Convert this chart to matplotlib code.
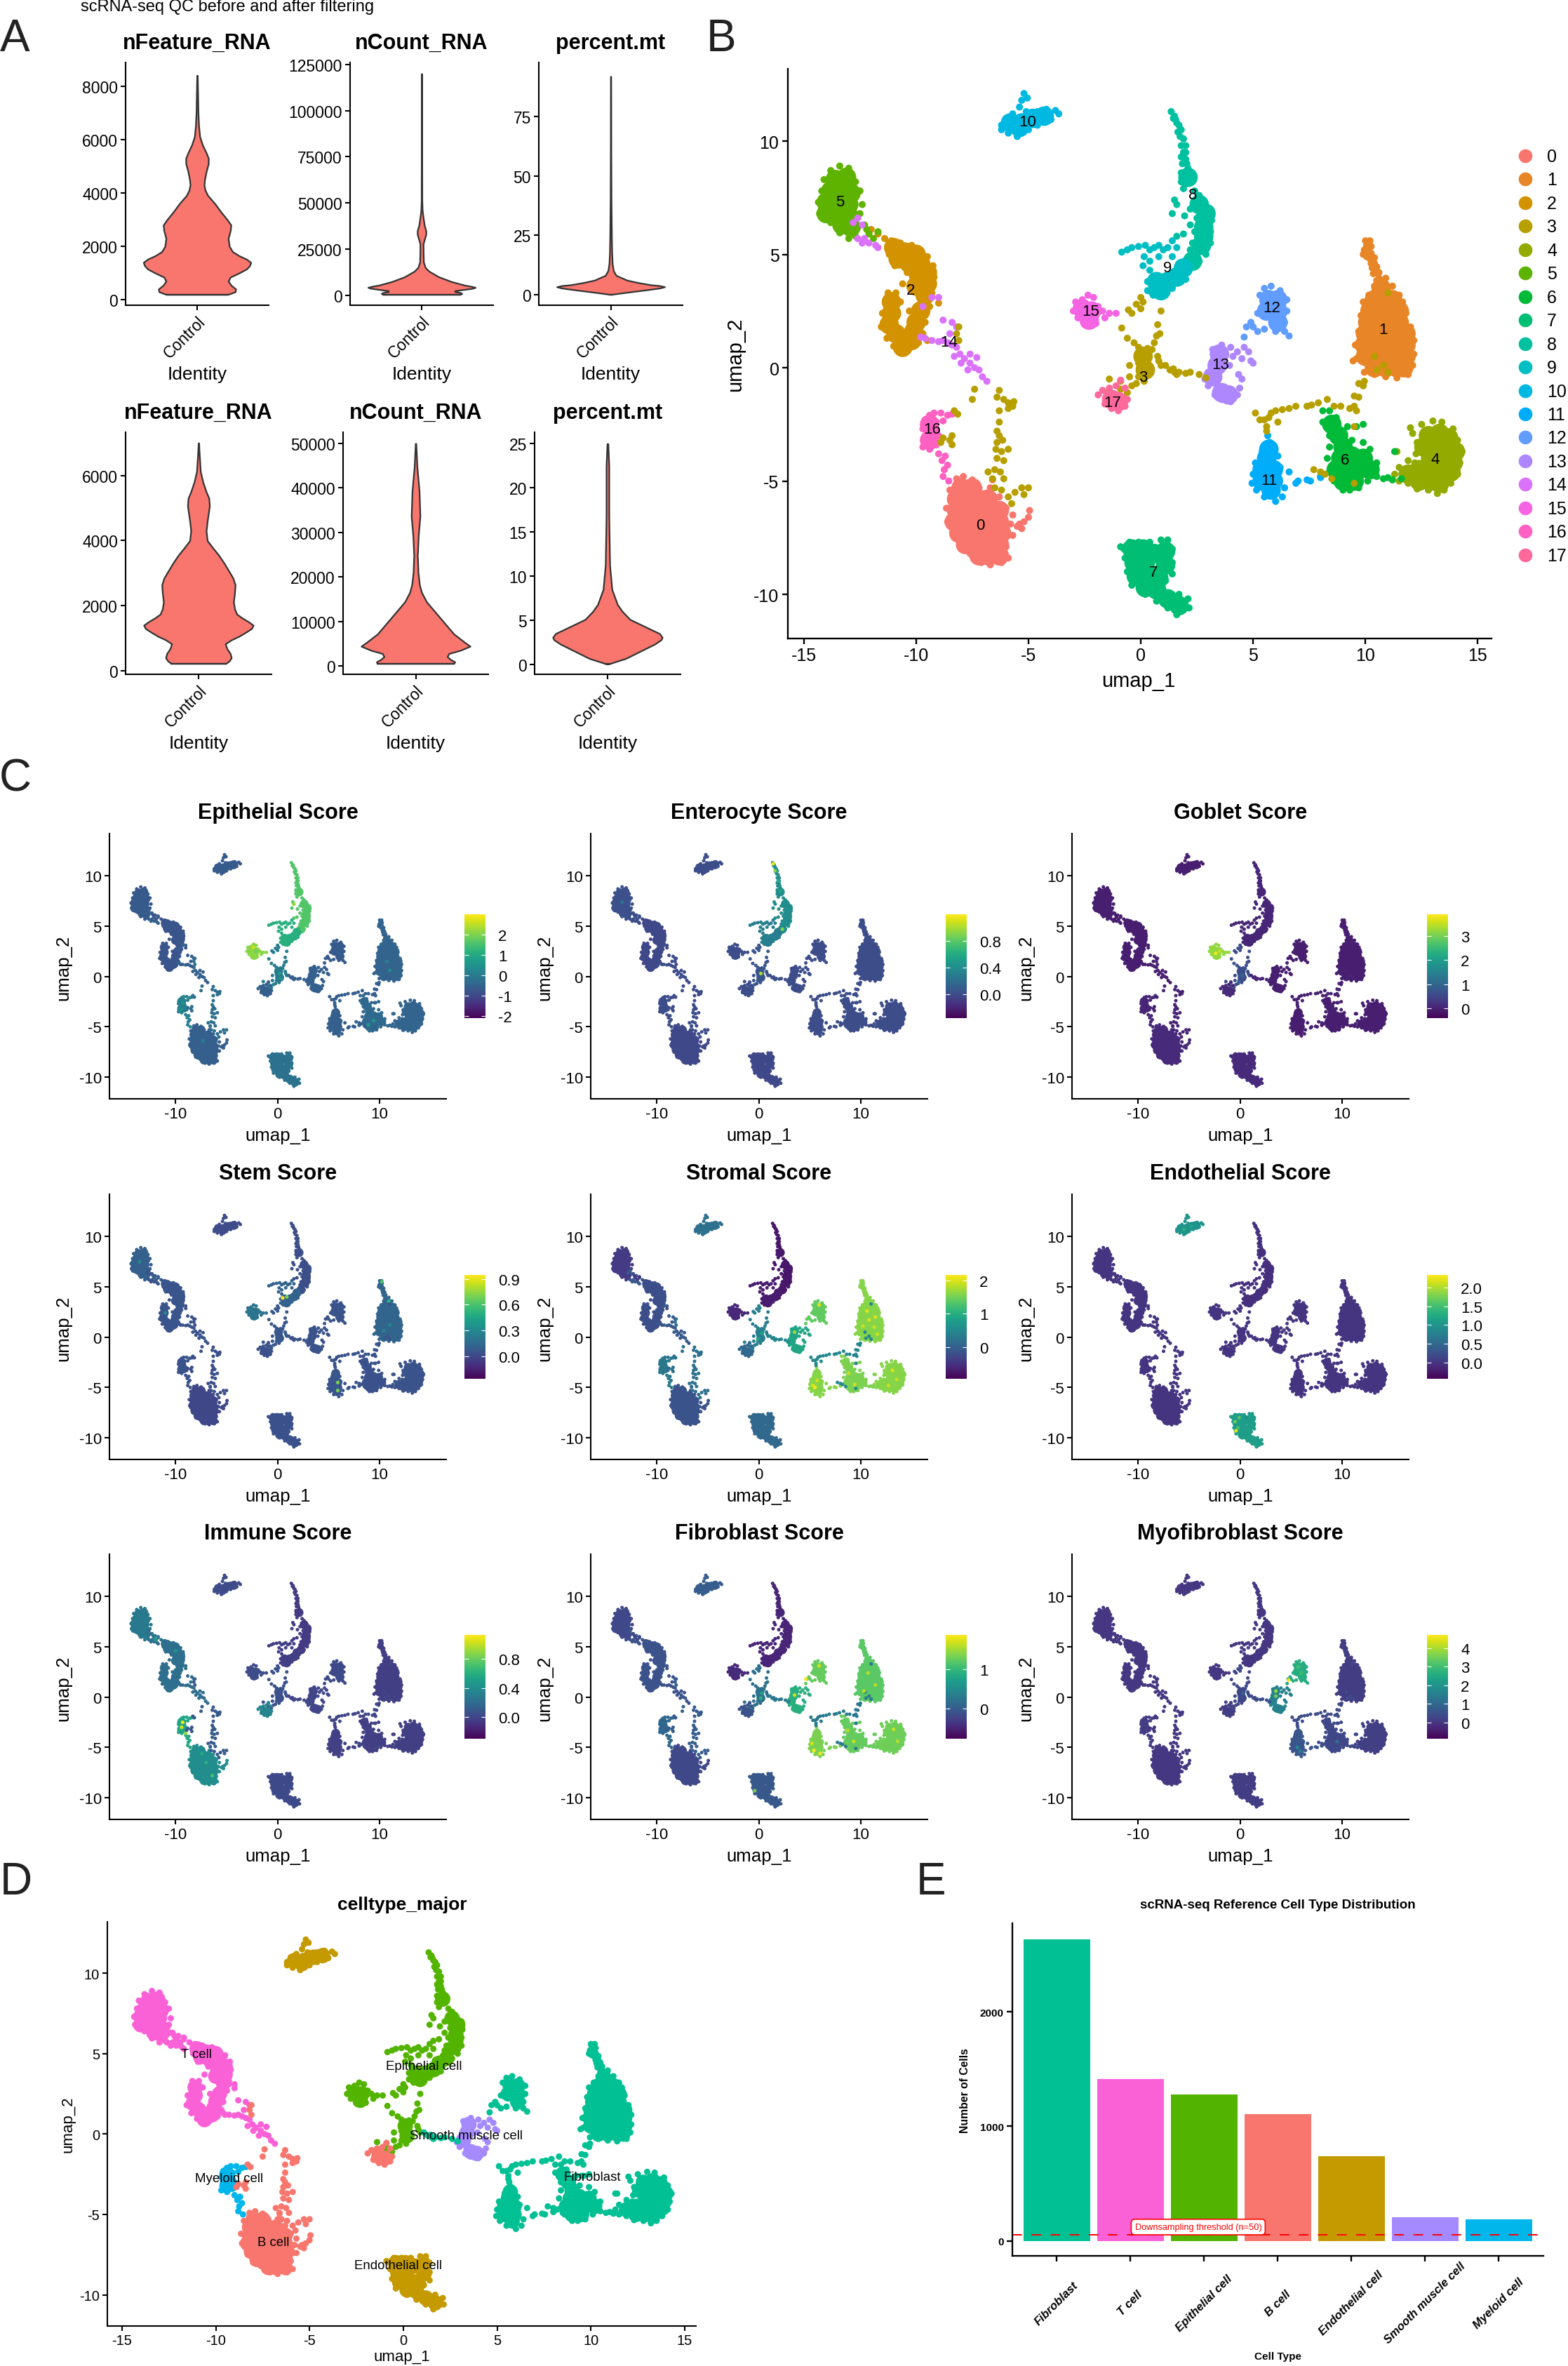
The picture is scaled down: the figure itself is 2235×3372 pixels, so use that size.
"""
Multi-panel scRNA-seq figure: QC violins, UMAP clusters, score maps, cell type UMAP and counts.
All values are read by eye from the published picture.
"""
from matplotlib import pyplot as plt
from matplotlib.cm import ScalarMappable
from matplotlib.colors import Normalize

W, H = 2235, 3373
plt.rcParams['font.family'] = ['Liberation Sans', 'DejaVu Sans']
plt.rcParams['axes.unicode_minus'] = False

# --- panel A: violin outlines, (value, relative half width)
vln_feature1_y = [200, 230, 300, 400, 550, 700, 850, 1000, 1150, 1280, 1400, 1520, 1650, 1800, 2000, 2300, 2600, 2800, 3000, 3300, 3600, 3900, 4100, 4300, 4500, 4800, 5100, 5300, 5500, 5800, 6100, 6500, 7000, 8400]
vln_feature1_w = [.57, .62, .71, .72, .63, .58, .62, .78, .92, .98, 1, .92, .78, .66, .6, .58, .62, .63, .56, .44, .33, .2, .15, .13, .14, .17, .21, .21, .17, .1, .05, .03, .018, .005]
vln_count1_y = [500, 1000, 1500, 2000, 2500, 3200, 3800, 4300, 4900, 5500, 7500, 10000, 13000, 15000, 18000, 24000, 28000, 30000, 33000, 35000, 38000, 42000, 46000, 52000, 120000]
vln_count1_w = [.72, .75, .72, .62, .62, .8, .95, 1, .92, .8, .55, .32, .14, .07, .035, .03, .03, .05, .08, .08, .05, .03, .012, .006, .002]
vln_mt1_y = [0, .5, 1, 2, 2.7, 3.2, 3.7, 4, 5, 6, 7, 8, 10, 13, 18, 25, 40, 60, 92]
vln_mt1_w = [.02, .18, .35, .7, .92, 1, .9, .75, .5, .3, .2, .1, .05, .03, .02, .015, .008, .005, .003]
vln_feature2_y = [227, 300, 400, 530, 680, 830, 950, 1060, 1200, 1300, 1400, 1500, 1620, 1740, 1900, 2115, 2400, 2640, 2850, 3020, 3300, 3550, 3800, 4000, 4300, 4600, 5060, 5300, 5500, 5800, 6120, 6720, 7000]
vln_feature2_w = [.5, .56, .6, .58, .52, .49, .6, .74, .88, .97, 1, .92, .8, .7, .66, .64, .66, .67, .63, .57, .47, .37, .25, .16, .14, .16, .2, .19, .14, .08, .035, .012, .004]
vln_count2_y = [550, 900, 1440, 2100, 2770, 3500, 4420, 5300, 7190, 10500, 14400, 16500, 18250, 21000, 24900, 29300, 33700, 39300, 44800, 50000]
vln_count2_w = [.7, .72, .64, .58, .61, .82, 1, .9, .7, .47, .2, .11, .07, .045, .033, .05, .08, .065, .025, .005]
vln_mt2_y = [.05, .3, .67, 1.5, 2.3, 2.8, 3.06, 3.5, 4, 5.1, 6, 6.8, 8.5, 11.2, 16.8, 22.4, 25]
vln_mt2_w = [.02, .14, .33, .6, .86, .98, 1, .95, .78, .41, .27, .18, .08, .04, .025, .025, .008]

qc_titles = ['nFeature_RNA', 'nCount_RNA', 'percent.mt']
qc_ticks_top = [[0, 2000, 4000, 6000, 8000], [0, 25000, 50000, 75000, 100000, 125000], [0, 25, 50, 75]]
qc_ticks_bottom = [[0, 2000, 4000, 6000], [0, 10000, 20000, 30000, 40000, 50000], [0, 5, 10, 15, 20, 25]]

# --- UMAP points by cluster
c0_core = [(-8.0, -5.3), (-7.5, -5.3), (-8.2, -5.8), (-7.7, -5.8), (-7.2, -5.8), (-6.8, -5.8), (-8.2, -6.3), (-7.7, -6.3), (-7.2, -6.3), (-6.7, -6.3), (-6.3, -6.3), (-8.3, -6.8), (-7.8, -6.8), (-7.3, -6.8), (-6.8, -6.8), (-6.3, -6.8), (-8.1, -7.3), (-7.6, -7.3), (-7.1, -7.3), (-6.6, -7.3), (-6.2, -7.3), (-7.8, -7.8), (-7.3, -7.8), (-6.8, -7.8), (-6.3, -7.8), (-7.2, -8.3), (-6.8, -8.3), (-6.3, -8.3)]
c0_edge = [(-8.5, -5.4), (-8.2, -4.9), (-7.9, -4.8), (-7.5, -4.95), (-7.2, -5.3), (-6.7, -5.3), (-6.6, -4.95), (-6.3, -5.7), (-6.0, -6.2), (-5.7, -6.5), (-5.4, -6.9), (-5.2, -6.8), (-5.0, -6.6), (-4.95, -6.3), (-5.5, -7.0), (-5.8, -6.9), (-5.9, -7.4), (-6.0, -7.9), (-5.9, -8.4), (-6.2, -8.6), (-6.7, -8.7), (-7.1, -8.6), (-7.6, -8.2), (-8.0, -8.0), (-8.3, -7.5), (-8.6, -6.8), (-8.65, -6.2), (-8.4, -5.7), (-5.7, -7.4), (-5.3, -7.1)]
c1_core = [(10.7, 3.5), (10.4, 3), (10.9, 3), (11.2, 3), (10.2, 2.5), (10.7, 2.5), (11.2, 2.5), (11.5, 2.5), (10.1, 2), (10.6, 2), (11.1, 2), (11.5, 2), (10, 1.5), (10.5, 1.5), (11, 1.5), (11.5, 1.5), (11.8, 1.5), (9.95, 1), (10.4, 1), (10.9, 1), (11.4, 1), (11.8, 1), (10, .5), (10.5, .5), (11, .5), (11.5, .5), (11.8, .5), (10.4, 0), (10.9, 0), (11.4, 0), (11.7, 0)]
c1_edge = [(10.0, 5.6), (10.2, 5.6), (10.1, 5.2), (9.9, 5.0), (10.2, 4.8), (10.3, 4.4), (10.45, 4.2), (10.4, 4.6), (10.6, 3.95), (10.9, 3.95), (10.4, 3.6), (11.2, 3.6), (11.5, 3.2), (11.65, 2.9), (11.8, 2.4), (12.0, 1.8), (12.15, 1.2), (12.15, .6), (12.1, .1), (11.9, -.3), (11.4, -.45), (10.9, -.4), (10.4, -.3), (9.95, -.2), (9.6, .4), (9.45, .3), (9.55, 1), (9.7, 1.6), (9.8, 2.3), (9.9, 2.9), (10.15, 3.2), (10.05, 5.4), (10.25, 5.35), (9.95, 5.2), (10.25, 5.05), (10.05, 4.9), (10.4, 4.85), (10.5, 4.45), (10.25, 4.6), (10.35, 4.15), (10.6, 4.2), (10.5, 3.85), (10.75, 3.8)]
c2_core = [(-11.0, 5.3), (-10.5, 5.1), (-10.0, 5.0), (-10.8, 4.8), (-10.3, 4.6), (-9.8, 4.6), (-9.5, 4.2), (-9.9, 4.1), (-9.5, 3.7), (-10.0, 3.6), (-9.6, 3.2), (-9.8, 2.5), (-10.0, 2.0), (-10.1, 1.6), (-11.1, 2.9), (-11.1, 2.4), (-11.2, 1.9), (-10.9, 1.5), (-10.6, 1.2), (-10.2, 1.2), (-10.6, .9)]
c2_edge = [(-12.0, 6.1), (-11.7, 5.9), (-11.4, 5.7), (-11.1, 5.6), (-10.7, 5.5), (-10.2, 5.4), (-9.8, 5.1), (-9.5, 4.9), (-9.25, 4.5), (-9.2, 4.0), (-9.3, 3.3), (-9.6, 2.9), (-9.4, 2.7), (-9.6, 2.0), (-9.7, 1.5), (-9.9, 1.1), (-10.3, .85), (-10.7, .65), (-11.0, .95), (-11.3, 1.3), (-11.55, 1.8), (-11.5, 2.4), (-11.3, 3.0), (-11.25, 3.3), (-10.9, 3.3), (-10.7, 2.9), (-10.3, 2.5), (-10.6, 3.7), (-10.4, 4.2), (-11.2, 5.0), (-10.95, 4.5), (-9.0, 2.85), (-9.5, 1.2)]
c3_core = [(.1, .5), (.2, -.1)]
c3_edge = [(.1, .6), (.3, .3), (-.1, .2), (.2, -.1), (-.1, -.4), (.5, .8), (.6, 1.1), (.7, 1.4), (.75, 1.9), (.3, .85), (-.1, .9), (-.2, -.7), (-.4, -.8), (-.5, -.4), (-.9, -.6), (-1.4, -.5), (-1.5, -1.1), (-.9, -.95), (-.6, -1.1), (-.5, .1), (.15, -.6), (.4, -.2), (.8, .3), (.9, .1), (.85, 1.5), (.75, .5), (-.3, 1.1), (-.6, 1.3), (-.85, 1.75), (.9, 2.5), (.1, 2.9), (0, 3.1), (-.4, 2.4), (-.55, 2.55), (.0, 2.6), (-.2, 2.8)]
c4_core = [(12.8, -3), (13.3, -2.9), (13.7, -3.1), (12.6, -3.5), (13.1, -3.5), (13.6, -3.6), (14, -3.7), (12.9, -4), (13.4, -4.1), (13.9, -4.2), (12.4, -4.5), (12.9, -4.5), (13.4, -4.6), (13.8, -4.6), (11.9, -4.7), (12.4, -5), (12.9, -5), (13.3, -5.1)]
c4_edge = [(13, -2.35), (13.4, -2.4), (12.5, -2.5), (12, -2.65), (12.1, -2.9), (12.3, -3.3), (12.25, -3.8), (13.9, -2.7), (14.1, -3.2), (14.3, -3.7), (14.2, -4.2), (14.1, -4.7), (13.8, -5.1), (13.5, -5.4), (13.2, -5.55), (12.8, -5.4), (12.3, -5.35), (11.9, -5.1), (11.5, -5.0), (11.3, -4.7), (11.5, -4.4), (11.9, -4.1), (12.2, -4.2), (11.4, -3.7)]
c5_core = [(-13.6, 8.3), (-13.1, 8.4), (-13.8, 7.8), (-13.3, 7.8), (-12.9, 7.7), (-14, 7.3), (-13.5, 7.3), (-13, 7.2), (-14, 6.8), (-13.5, 6.8), (-13, 6.7), (-13.3, 6.3), (-12.9, 6.2)]
c5_edge = [(-13.8, 8.7), (-13.4, 8.9), (-13, 8.8), (-12.7, 8.2), (-12.5, 7.8), (-12.4, 7.2), (-12.5, 6.8), (-12.6, 6.2), (-12.7, 5.8), (-13, 5.7), (-13.4, 5.95), (-13.8, 6.4), (-14.3, 6.8), (-14.35, 7.3), (-14.2, 7.8), (-14.1, 8.3), (-12.3, 6.3), (-12.1, 5.9), (-11.9, 5.7), (-11.7, 6.0), (-12.2, 6.1)]
c6_core = [(8.5, -2.5), (8.8, -3), (9, -3.5), (8.9, -4), (9.4, -3.9), (9.9, -4.0), (8.7, -4.5), (9.2, -4.5), (9.7, -4.5), (10.2, -4.5), (9, -5), (9.5, -5)]
c6_edge = [(8.1, -1.9), (8.4, -1.9), (8.7, -2.2), (8.1, -2.4), (8.4, -3), (8.4, -3.5), (8.3, -4), (8, -4.8), (8.4, -4.6), (8.6, -5), (9, -5.4), (9.3, -5.4), (9.7, -5.3), (10.1, -5.0), (10.5, -4.8), (10.5, -4.2), (10.2, -3.6), (9.9, -3.3), (9.4, -3.2), (9.2, -2.6), (9.6, -2.6), (9.9, -2.5), (11, -4.85), (11.2, -4.95), (11.6, -4.9), (10.8, -4.9), (11.3, -3.7)]
c7_core = [(-.4, -8), (.1, -8), (.6, -8.2), (1.1, -8.1), (-.3, -8.6), (.2, -8.6), (1.1, -8.7), (-.2, -9.2), (.3, -9.2), (.8, -9.3), (.2, -9.7), (.7, -9.8), (1.2, -10.2), (1.7, -10.5)]
c7_edge = [(-.9, -7.9), (-.5, -7.7), (-.1, -7.7), (.4, -7.7), (.9, -7.6), (1.2, -7.6), (1.4, -8), (1.4, -8.6), (1.4, -9.1), (1.1, -9.4), (1.7, -10), (2.1, -10.2), (2.15, -10.6), (1.6, -10.9), (1.2, -10.6), (.7, -10.3), (.2, -10), (-.4, -9.6), (-.6, -9), (-.7, -8.4), (-.75, -8.0), (.7, -8.9)]
c8_core = [(2.1, 8.4), (2.6, 7.2), (2.9, 6.8), (2.8, 6.2), (2.8, 5.8), (2.7, 5.4), (2.3, 4.7)]
c8_edge = [(1.35, 11.3), (1.5, 11.1), (1.45, 11.0), (1.6, 10.8), (1.55, 10.95), (1.7, 10.7), (1.8, 10.5), (1.65, 10.4), (1.75, 10.2), (1.9, 10.1), (1.8, 9.8), (2.0, 9.8), (1.9, 9.5), (2.0, 9.5), (1.8, 9.3), (2, 9.2), (1.85, 9), (2.05, 9), (2.1, 8.8), (1.8, 8.6), (2.2, 8.6), (2.3, 8.4), (1.8, 8.2), (2.4, 7.8), (1.9, 7.9), (2.6, 7.6), (3.1, 7.0), (3.15, 6.5), (3.1, 6), (3.1, 5.5), (2.9, 5), (2.6, 4.7), (2.2, 6.3), (2.4, 6), (2.3, 5.5), (2.2, 5.2), (1.5, 7.4), (1.6, 7.2), (1.4, 6.8), (1.95, 6.7), (2.2, 7.0), (1.9, 5.9), (1.6, 5.8), (2.5, 6.6), (2.5, 5.0)]
c9_core = [(.7, 3.8), (1.2, 3.8), (1.6, 4), (.9, 3.4), (1.9, 4.4)]
c9_edge = [(-.85, 5.1), (-.6, 5.2), (-.4, 5.3), (-.1, 5.35), (.2, 5.4), (.4, 5.2), (.6, 5.3), (.8, 5.4), (1, 5.2), (1.2, 5.3), (1.4, 5.6), (1.6, 5.3), (.15, 4.9), (.4, 4.7), (.1, 4.5), (.4, 4.3), (.5, 3.9), (.3, 3.8), (.3, 3.4), (.5, 3.3), (.55, 3.2), (1, 3.3), (1.4, 3.5), (1.8, 3.8), (.8, 4.9), (1.4, 4.9), (1.7, 4.6), (2, 3.9)]
c10_core = [(-5.8, 10.8), (-5.3, 10.8), (-5.4, 10.6), (-4.8, 11), (-4.3, 11.1)]
c10_edge = [(-6.2, 10.7), (-6.0, 11), (-5.7, 11.2), (-5.4, 11.5), (-5.3, 11.8), (-5.2, 12.1), (-5.05, 11.9), (-5.1, 11.3), (-4.6, 11.3), (-4.2, 11.4), (-3.8, 11.35), (-3.65, 11.2), (-4, 10.95), (-4.6, 10.7), (-5, 10.5), (-5.5, 10.2), (-5.9, 10.35), (-6.2, 10.5)]
c11_core = [(5.6, -4), (5.4, -4.5), (5.9, -4.5), (5.4, -5), (5.9, -5), (5.8, -5.4), (5.7, -3.6)]
c11_edge = [(5.65, -3), (5.75, -3.3), (5.4, -3.7), (5.1, -4.2), (5, -4.7), (4.95, -5.1), (5.15, -5.4), (5.5, -5.7), (6, -5.9), (6.3, -5.7), (6.4, -5.3), (6.9, -5.1), (7, -5), (6.6, -4.6), (6.2, -4.4), (6.1, -3.9), (7.4, -4.95), (7.55, -5), (8.0, -4.85)]
c12_core = [(5.7, 3.0), (6.1, 3), (5.6, 2.5), (6.1, 2.5), (6.1, 2)]
c12_edge = [(5.3, 3.2), (5.5, 3.5), (5.8, 3.6), (6.2, 3.4), (6.5, 3.0), (6.5, 2.5), (6.4, 2), (6.6, 1.4), (6.4, 1.6), (6, 1.6), (5.5, 1.7), (5.2, 1.6), (4.7, 1.8), (4.9, 2), (5.2, 2.4), (5.0, 1.8), (4.6, 1.35)]
c13_core = [(3.5, .6), (3.4, .1), (3.2, -.4), (3.6, -1.1), (3.9, -1.2)]
c13_edge = [(3.2, .8), (3.6, 1), (4, .9), (4.1, .5), (3.95, .1), (3, -.3), (2.85, -.5), (3, -.8), (3.3, -1.2), (3.6, -1.4), (4, -1.5), (4.3, -1.2), (4.4, -.9), (4.5, -.5), (4.3, .7), (4.6, .9), (4.8, .7), (4.9, .3), (5, .2), (4.5, .4), (4.35, -.3)]
c14_edge = [(-9.8, 1.35), (-9.6, 1.3), (-9.3, 1.2), (-9, 1.15), (-8.8, 1.2), (-8.6, 1.1), (-8.4, 1), (-8.2, .9), (-8.05, .6), (-7.85, .4), (-7.6, .2), (-7.4, 0), (-7.2, -.1), (-7.05, -.4), (-6.85, -.6), (-8.3, .5), (-8, .2), (-7.7, -.1), (-8.5, 1.5), (-8.8, 2.1), (-8.4, 2), (-8.2, 1.8), (-9.3, 3.1), (-9.0, 3.1), (-9.7, 2.7), (-12.8, 6.4), (-12.6, 6.6), (-12.4, 6.3), (-12.3, 5.7), (-12.6, 5.7), (-12.1, 5.5), (-11.8, 5.4), (-11.7, 5.3), (-12.4, 5.5), (-7.3, .45), (-7.6, .6)]
c15_core = [(-2.6, 2.6), (-2.2, 2.5), (-2.3, 2.1)]
c15_edge = [(-3, 2.5), (-2.9, 2.9), (-2.6, 3), (-2.35, 3.2), (-2.1, 3.1), (-1.9, 2.7), (-1.7, 2.5), (-1.4, 2.4), (-1.1, 2.4), (-1.6, 2.2), (-2, 1.95), (-2.5, 1.9), (-2.8, 2.2)]
c16_core = [(-9.4, -2.5), (-9.4, -3.2)]
c16_edge = [(-9.4, -2.1), (-9.2, -2), (-8.9, -2), (-8.6, -2.1), (-8.4, -2.05), (-9.6, -2.3), (-9.1, -2.4), (-8.8, -2.35), (-9.7, -2.7), (-9.4, -2.7), (-9.1, -2.8), (-9.6, -3.2), (-9.3, -3.2), (-9, -3), (-9.7, -3.5), (-9.4, -3.6), (-9.1, -3.4), (-9.0, -3.8), (-8.85, -4.1), (-8.7, -3.9), (-8.6, -4.3), (-8.75, -4.5), (-8.8, -4.8), (-8.55, -5)]
c17_core = [(-1.3, -1.4), (-1.0, -1.5)]
c17_edge = [(-1.9, -1.2), (-1.7, -1.0), (-1.4, -.9), (-1.1, -.8), (-.9, -.55), (-.7, -.9), (-.6, -1.4), (-.7, -1.7), (-1, -1.9), (-1.3, -1.8), (-1.6, -1.6)]
# cluster 3 cells in the fibroblast ring and the link to cluster 13
c3_ring = [(1.1, .1), (1.3, -.1), (1.5, -.2), (1.7, -.2), (2, -.25), (2.2, -.2), (2.6, -.3), (2.9, -.45), (1.45, -.05), (1.6, -.3), (5.1, -2), (5.3, -2.3), (5.5, -2.3), (5.7, -2.2), (5.8, -2), (6, -1.9), (6.3, -1.85), (6.6, -1.8), (6.9, -1.7), (6.1, -2.4), (5.6, -2.6), (5.6, -2.8), (7.4, -1.7), (7.6, -1.65), (7.9, -1.55), (8.3, -1.4), (8.6, -1.7), (8.9, -1.7), (9.3, -1.8), (9.5, -1.7), (9.6, -1.9), (7.7, -4.5), (8, -4.6), (8.2, -4.7), (8.5, -4.9), (9.5, -5.1), (9.5, -2.6), (9.7, -1.3), (9.5, -1.25), (9.9, -.8), (9.95, -.6), (9.7, -.7), (10.5, -.1), (11, -.2), (10.8, .1), (10.4, .5), (11, 3.3)]
# cluster 3 cells in the strand above cluster 0 and around cluster 16
c3_tail = [(-6.3, -1.0), (-6.4, -1.3), (-6.1, -1.4), (-5.9, -1.55), (-5.7, -1.7), (-5.65, -1.5), (-5.9, -1.8), (-7.4, -.95), (-7.5, -1.4), (-6.3, -1.9), (-6.3, -2.4), (-6.4, -2.8), (-6.3, -3.0), (-6.4, -3.3), (-6.15, -3.2), (-6.45, -3.6), (-6.2, -3.7), (-5.9, -3.6), (-6.4, -4.0), (-6.1, -4.1), (-6.5, -4.5), (-6.25, -4.6), (-6.8, -4.6), (-6.6, -4.9), (-6.1, -4.9), (-6.5, -5.3), (-6.2, -5.4), (-5.6, -5.5), (-5.3, -5.3), (-5.2, -5.6), (-5.0, -5.3), (-5.9, -5.7), (-5.75, -6.0), (-8.8, -3.1), (-8.5, -3.2), (-8.4, -3.0), (-8.4, -3.4), (-8.9, -3.3), (-8.3, -1.9), (-8.15, -2.05), (-8.1, 1.8), (-8.2, 1.5), (-8.1, 1.2)]

core_pts = [c0_core, c1_core, c2_core, c3_core, c4_core, c5_core, c6_core, c7_core, c8_core, c9_core, c10_core, c11_core, c12_core, c13_core, [], c15_core, c16_core, c17_core, [], []]
edge_pts = [c0_edge, c1_edge, c2_edge, c3_edge, c4_edge, c5_edge, c6_edge, c7_edge, c8_edge, c9_edge, c10_edge, c11_edge, c12_edge, c13_edge, c14_edge, c15_edge, c16_edge, c17_edge, c3_ring, c3_tail]

cluster_names = [str(i) for i in range(18)]
cluster_colors = ['#F8766D', '#E88526', '#D39200', '#B79F00', '#93AA00', '#5EB300', '#00BA38', '#00BF74', '#00C19F', '#00BFC4', '#00B9E3', '#00ADFA', '#619CFF', '#AE87FF', '#DB72FB', '#F564E3', '#FF61C3', '#FF699C']
group_cluster = list(range(18)) + [3, 3]
cluster_label_x = [-7.15, 10.8, -10.23, .1, 13.1, -13.4, 9.1, .55, 2.3, 1.2, -5.03, 5.7, 5.82, 3.55, -8.55, -2.23, -9.3, -1.27]
cluster_label_y = [-6.95, 1.7, 3.42, -.42, -4.04, 7.33, -4.06, -9.02, 7.62, 4.41, 10.84, -4.98, 2.65, .14, 1.13, 2.48, -2.7, -1.52]

# --- panel C: mean score per group (clusters 0-17, ring, tail), colour range, ticks
score_titles = ['Epithelial Score', 'Enterocyte Score', 'Goblet Score', 'Stem Score', 'Stromal Score', 'Endothelial Score', 'Immune Score', 'Fibroblast Score', 'Myofibroblast Score']
epithelial = [-.6, -.5, -.8, 0, -.5, -.7, -.4, -.2, 1.6, 1.1, -.7, -.6, -.7, -.6, -.6, 2.1, .1, -.6, -.6, -.3]
enterocyte = [-.02, 0, -.02, .05, 0, .02, 0, -.02, .4, .3, 0, 0, 0, 0, 0, 0, 0, 0, 0, 0]
goblet = [.1, -.05, -.05, .6, -.05, -.05, -.05, .1, .05, .05, -.05, -.05, -.05, -.05, -.05, 3.2, .05, .1, 0, 0]
stem = [0, .13, .06, .07, .05, .1, .04, .04, .03, .12, .02, .06, .05, .05, .05, .2, .05, .04, .05, .03]
stromal = [-.15, 1.6, -.2, .4, 1.6, -.4, 1.55, .1, -.75, -.7, .2, 1.6, 1.4, .9, -.1, -.6, .3, .1, .5, .2]
endothelial = [0, 0, 0, 0, 0, 0, 0, 1.1, -.05, -.05, 1.0, 0, 0, 0, 0, 0, 0, 0, 0, 0]
immune = [.4, -.03, .22, .05, -.03, .28, -.03, .02, -.05, -.03, .03, -.02, .02, 0, .2, .03, .55, .35, 0, .1]
fibroblast = [-.2, 1.2, -.1, .2, 1.3, -.2, 1.25, -.05, -.5, -.5, 0, 1.35, 1.25, .9, -.1, -.45, .1, -.1, .3, 0]
myofibroblast = [0, .1, 0, .3, .15, 0, .3, .1, 0, 0, 0, .6, 2.6, 1.6, 0, 0, .1, .1, .4, 0]
score_values = [epithelial, enterocyte, goblet, stem, stromal, endothelial, immune, fibroblast, myofibroblast]
score_lims = [(-2.12, 3.0), (-.36, 1.2), (-.41, 3.9), (-.257, .945), (-.94, 2.16), (-.43, 2.33), (-.297, 1.13), (-.77, 1.88), (-.89, 4.72)]
score_ticks = [[-2, -1, 0, 1, 2], [0, .4, .8], [0, 1, 2, 3], [0, .3, .6, .9], [0, 1, 2], [0, .5, 1, 1.5, 2], [0, .4, .8], [0, 1], [0, 1, 2, 3, 4]]
score_fmt = ['%d', '%.1f', '%d', '%.1f', '%d', '%.1f', '%.1f', '%d', '%d']
# brightest single cells of each map: x, y, score
hot_cells = [[(-2.4, 2.9, 2.6), (1.6, 7.2, 2.2), (-2.1, 2.5, 1.9), (.2, .3, .6), (.3, -.2, .5), (9.4, -4.4, .5), (8.9, -4.8, .6), (-9.3, -2.6, .4), (-9.5, -3.3, .5), (-7.3, -6.4, .1), (10.7, 1.5, .2), (11, .6, .3)],
             [(1.4, 11.2, 1.15), (1.6, 10.5, .9), (.2, .3, 1.0), (2.3, 4.7, .9), (1.9, 9.5, .6), (2.1, 8.5, .55), (-13.4, 7.4, .25)],
             [(-2.4, 2.3, 3.8), (-2.0, 2.5, 3.5), (0.2, .1, 1.0), (-.1, -.5, .9)],
             [(.5, 3.9, .94), (.9, 4.0, .7), (10.2, 5.5, .6), (5.9, -4.5, .7), (5.9, -5.3, .7), (10.9, 3.6, .5), (11, 1.2, .3), (10.4, .6, .3), (-11, 2.4, .3), (-13.5, 7.5, .3)],
             [(10.8, 1.7, 2.0), (5.5, -5.0, 2.1), (5.3, -4.8, 2.0), (11.3, 1.0, 1.9), (13.5, -4.2, 1.9), (10.6, 2.6, 2.0), (11.4, 2.0, 2.0), (10.2, 1.1, 1.9), (11.6, .3, 1.9), (13.1, -3.3, 2.0), (12.7, -4.8, 1.9), (9.4, -4.7, 1.95), (8.8, -3.6, 1.9), (5.7, -4.3, 1.95), (5.9, 3.2, 2.0), (3.5, .5, 1.7), (-.1, -.2, .9), (.3, .4, .9)],
             [(-.4, -9.3, 2.2), (-.1, -8.0, 1.6), (-4.8, 11, 1.2), (-.5, -8.4, 1.7), (-.2, -9.0, 1.5), (.6, -8.0, .9), (-5.5, 10.7, 1.3)],
             [(-9.3, -2.5, 1.1), (-9.4, -3.0, 1.05), (-9.0, -3.6, .9), (-7, -6.5, .6), (-6.4, -7.8, .7), (-7.4, -5.6, .55), (-12, 5.7, .5), (-10, 4.6, .45)],
             [(5.4, -5.3, 1.85), (5.2, -4.6, 1.7), (3.5, .2, 1.7), (5.9, 3.1, 1.7), (6.0, -5.6, 1.85), (4.6, 1.8, 1.85), (10.7, 2.4, 1.6), (11.4, 1.2, 1.6), (10.3, .6, 1.6), (13.2, -3.2, 1.65), (13.6, -4.4, 1.6), (9.3, -4.4, 1.65), (8.7, -3.3, 1.6), (.2, -.1, .9), (.3, .4, .8), (-.4, -9.3, 1.3)],
             [(4.75, 1.7, 4.6), (3.5, .6, 3.8), (3.5, .1, 3.5), (5.7, 3, 3.1), (6, 2.4, 3), (5.6, -5.0, 1.8), (5.9, -5.4, 1.6), (.3, .4, .9), (9.5, -4.4, 1.2)]]

# --- panels D and E
celltype_names = ['Fibroblast', 'T cell', 'Epithelial cell', 'B cell', 'Endothelial cell', 'Smooth muscle cell', 'Myeloid cell']
celltype_counts = [2630, 1413, 1276, 1107, 738, 206, 186]
celltype_colors = ['#00C094', '#FB61D7', '#53B400', '#F8766D', '#C49A00', '#A58AFF', '#00B6EB']
# cell type index of each group (clusters 0-17, ring, tail)
group_celltype = [3, 0, 1, 2, 0, 1, 0, 4, 2, 2, 4, 0, 0, 5, 1, 2, 6, 3, 0, 3]
celltype_label_x = [10.07, -11.04, 1.08, -6.91, -.28, 3.35, -9.29]
celltype_label_y = [-2.68, 4.98, 4.25, -6.72, -8.15, -.11, -2.74]
threshold = 50

fig = plt.figure(figsize=(W / 100, H / 100), dpi=100)


def px_axes(left, top, right, bottom):
    return fig.add_axes([left / W, 1 - bottom / H, (right - left) / W, (bottom - top) / H])


def ptext(x, y, s, **kw):
    kw.setdefault('ha', 'center')
    kw.setdefault('va', 'center')
    fig.text(x / W, 1 - y / H, s, **kw)


def style(ax, lw=1.5, size=16, length=5):
    for side in ['top', 'right']:
        ax.spines[side].set_visible(False)
    for side in ['left', 'bottom']:
        ax.spines[side].set_linewidth(lw)
    ax.tick_params(width=lw, length=length, labelsize=size, pad=3)


def scatter_groups(ax, colors, s_core, s_edge):
    for core, edge, c in zip(core_pts, edge_pts, colors):
        if core:
            ax.scatter(*zip(*core), s=s_core, c=[c] * len(core), linewidths=0)
        ax.scatter(*zip(*edge), s=s_edge, c=[c] * len(edge), linewidths=0)


for letter, x, y in [('A', 21, 56), ('B', 1028, 56), ('C', 22, 1110), ('D', 23, 2683), ('E', 1327, 2683)]:
    ptext(x, y, letter, fontsize=46, color='#222222')

# panel A
ptext(115, 10, 'scRNA-seq QC before and after filtering', fontsize=17, ha='left')
qc_top = [(179, 383), (499, 703), (768, 973)]
qc_bot = [(179, 387), (489, 696), (762, 970)]
qc_rows = [
    (90, 436, qc_top, qc_ticks_top, [(-203, 8885), (-5330, 126066), (-4.57, 97.9)],
     [(vln_feature1_y, vln_feature1_w), (vln_count1_y, vln_count1_w), (vln_mt1_y, vln_mt1_w)]),
    (617, 962, qc_bot, qc_ticks_bottom, [(-106, 7330), (-1880, 52540), (-1.11, 26.3)],
     [(vln_feature2_y, vln_feature2_w), (vln_count2_y, vln_count2_w), (vln_mt2_y, vln_mt2_w)]),
]
for top, bottom, cols, ticks, lims, shapes in qc_rows:
    for (left, right), tk, lim, (vy, vw), name in zip(cols, ticks, lims, shapes, qc_titles):
        ax = px_axes(left, top, right, bottom)
        style(ax, lw=1.5, size=16.5)
        left_side = [1 - .45 * w for w in vw]
        right_side = [1 + .45 * w for w in vw]
        ax.fill_betweenx(vy, left_side, right_side, facecolor='#F8766D', edgecolor='#333333', linewidth=1.6, joinstyle='round')
        ax.plot([left_side[0], right_side[0]], [vy[0], vy[0]], color='#333333', lw=1.6)
        ax.set_xlim(.4, 1.6)
        ax.set_ylim(*lim)
        ax.set_yticks(tk)
        ax.set_xticks([1])
        ax.set_xticklabels(['Control'], rotation=45, ha='right', rotation_mode='anchor', fontsize=16.5)
        cx = (left + right) / 2
        ptext(cx, top - 28, name, fontsize=22, fontweight='bold')
        ptext(cx, bottom + 98, 'Identity', fontsize=19)

# panel B
ax = px_axes(1123, 99, 2126, 911)
style(ax, lw=1.7, size=18, length=6)
scatter_groups(ax, [cluster_colors[i] for i in group_cluster], 400, 52)
for i, name in enumerate(cluster_names):
    ax.text(cluster_label_x[i], cluster_label_y[i], name, fontsize=16, ha='center', va='center')
ax.set_xlim(-15.71, 15.61)
ax.set_ylim(-11.95, 13.19)
ax.set_xticks([-15, -10, -5, 0, 5, 10, 15])
ax.set_yticks([-10, -5, 0, 5, 10])
ptext(1623, 971, 'umap_1', fontsize=21)
ptext(1048, 505, 'umap_2', fontsize=21, rotation=90)
leg = fig.add_axes([0, 0, 1, 1], facecolor='none')
leg.set_axis_off()
leg.set_xlim(0, W)
leg.set_ylim(H, 0)
for i, name in enumerate(cluster_names):
    leg.scatter([2174], [223 + i * 33.45], s=200, c=[cluster_colors[i]], linewidths=0)
    leg.text(2205, 224 + i * 33.45, name, fontsize=18, va='center')

# panel C
col_left = [156, 842, 1528]
row_top = [1189, 1703, 2216]
k = 0
for r, top in enumerate(row_top):
    for c, left in enumerate(col_left):
        ax = px_axes(left, top, left + 480, top + 378)
        style(ax, lw=1.5, size=16)
        norm = Normalize(*score_lims[k])
        cmap = plt.cm.viridis
        scatter_groups(ax, [cmap(norm(v)) for v in score_values[k]], 85, 13)
        hx, hy, hv = zip(*hot_cells[k])
        ax.scatter(hx, hy, s=14, c=hv, cmap=cmap, norm=norm, linewidths=0)
        ax.set_xlim(-16.47, 16.52)
        ax.set_ylim(-12.15, 14.2)
        ax.set_xticks([-10, 0, 10])
        ax.set_yticks([-10, -5, 0, 5, 10])
        ptext(left + 240, top - 30, score_titles[k], fontsize=22, fontweight='bold')
        ptext(left + 240, top + 430, 'umap_1', fontsize=18.6)
        ptext(left - 66, top + 190, 'umap_2', fontsize=18.6, rotation=90)
        cax = px_axes(left + 506, top + 115, left + 536, top + 263)
        cb = fig.colorbar(ScalarMappable(norm=norm, cmap=cmap), cax=cax, ticks=score_ticks[k], format=score_fmt[k])
        cb.outline.set_visible(False)
        cb.ax.tick_params(length=0, labelsize=16, pad=13)
        cb.ax.hlines(score_ticks[k], 0, .2, transform=cb.ax.get_yaxis_transform(), color='white', lw=.8)
        cb.ax.hlines(score_ticks[k], .8, 1, transform=cb.ax.get_yaxis_transform(), color='white', lw=.8)
        k += 1

# panel D
ax = px_axes(153, 2740, 992, 3316)
style(ax, lw=1.5, size=14.5, length=5)
scatter_groups(ax, [celltype_colors[i] for i in group_celltype], 250, 42)
for i, name in enumerate(celltype_names):
    ax.text(celltype_label_x[i], celltype_label_y[i], name, fontsize=13.4, ha='center', va='center')
ax.set_xlim(-15.78, 15.6)
ax.set_ylim(-11.94, 13.2)
ax.set_xticks([-15, -10, -5, 0, 5, 10, 15])
ax.set_yticks([-10, -5, 0, 5, 10])
ptext(573, 2715, 'celltype_major', fontsize=19, fontweight='bold')
ptext(573, 3360, 'umap_1', fontsize=16)
ptext(97, 3028, 'umap_2', fontsize=16, rotation=90)

# panel E
ax = px_axes(1443, 2742, 2200, 3216)
style(ax, lw=1.7, size=11, length=6)
ax.bar(range(len(celltype_names)), celltype_counts, width=.9, color=celltype_colors)
ax.axhline(threshold, color='red', lw=1.4, ls=(0, (7, 7)))
ax.text(1.92, 120, 'Downsampling threshold (n=%d)' % threshold, color='red', fontsize=9.2, ha='center', va='center',
        bbox=dict(boxstyle='round,pad=0.4', fc='white', ec='red', lw=1.2))
ax.set_xlim(-.603, 6.607)
ax.set_ylim(-131.6, 2772)
ax.set_yticks([0, 1000, 2000])
ax.set_xticks(range(len(celltype_names)))
ax.set_xticklabels([])
for tl in ax.get_yticklabels():
    tl.set_fontweight('bold')
for i, name in enumerate(celltype_names):
    px = 1443 + (i + .603) / 7.21 * 757
    ptext(px, 3283, name, rotation=45, fontsize=12, fontweight='bold', fontstyle='italic')
ptext(1821, 2716, 'scRNA-seq Reference Cell Type Distribution', fontsize=13.5, fontweight='bold')
ptext(1821, 3359, 'Cell Type', fontsize=11, fontweight='bold')
ptext(1376, 2980, 'Number of Cells', fontsize=11.3, fontweight='bold', rotation=90)

fig.savefig('out.png', dpi=100)
